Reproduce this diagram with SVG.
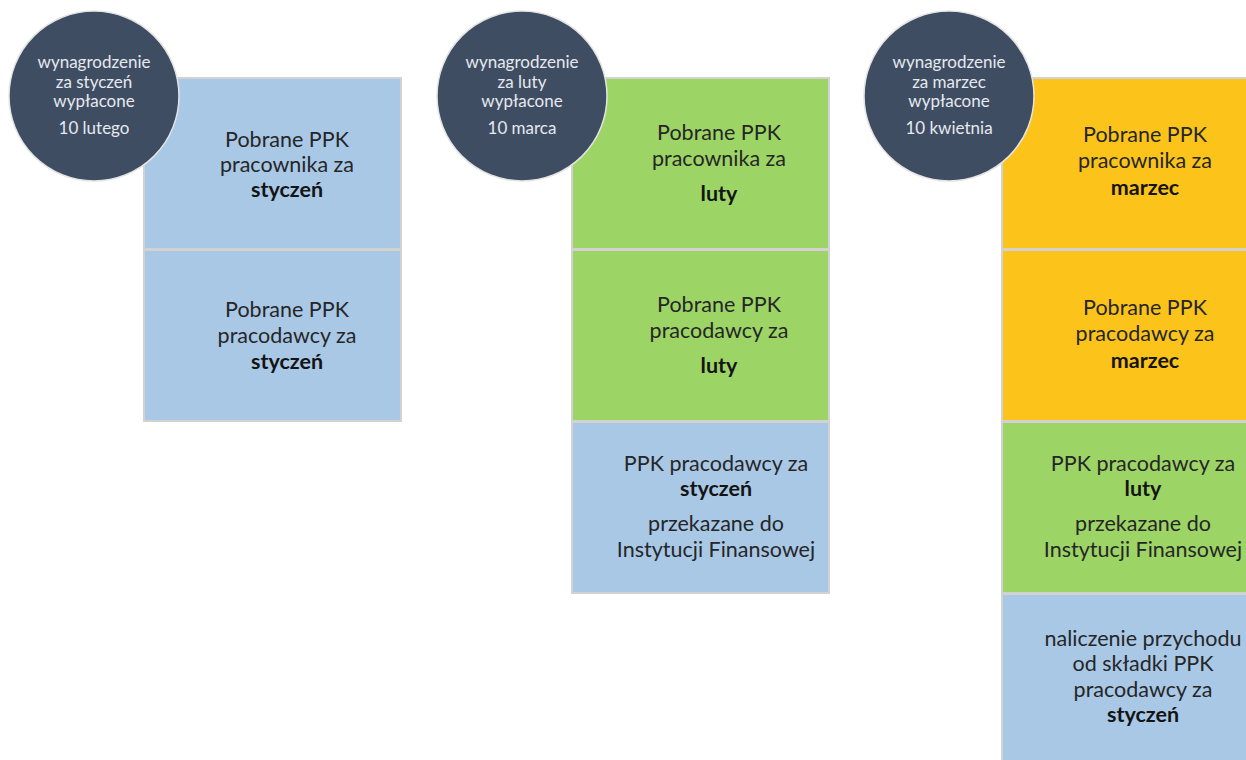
<svg xmlns="http://www.w3.org/2000/svg" width="1246" height="760" viewBox="0 0 1246 760">
<style>
.box{stroke:#D2D2D2;stroke-width:2}
.blue{fill:#A8C8E6}
.green{fill:#9DD466}
.yellow{fill:#FCC41A}
.circ{fill:#3F4D63;stroke:#E4E4E4;stroke-width:1.5}
.t{font-family:Lato,"Liberation Sans",sans-serif;font-size:21.5px;fill:#262626;text-anchor:middle}
.b{font-weight:bold;fill:#141414}
.c{font-family:Lato,"Liberation Sans",sans-serif;font-size:17px;fill:#E6E9EE;text-anchor:middle}
</style>
<rect width="1246" height="760" fill="#FFFFFF"/>

<g id="col1-box1"><rect class="box blue" x="144" y="78" width="257" height="171"/>
<text class="t" x="287" y="147">Pobrane PPK</text><text class="t" x="287" y="172">pracownika za</text><text class="t b" x="287" y="197">styczeń</text></g>
<g id="col1-box2"><rect class="box blue" x="144" y="250" width="257" height="171"/>
<text class="t" x="287" y="317">Pobrane PPK</text><text class="t" x="287" y="343">pracodawcy za</text><text class="t b" x="287" y="369">styczeń</text></g>
<g id="col1-circle"><circle class="circ" cx="94" cy="96" r="85"/>
<text class="c" x="94" y="68">wynagrodzenie</text><text class="c" x="94" y="88">za styczeń</text><text class="c" x="94" y="107">wypłacone</text><text class="c" x="94" y="134">10 lutego</text></g>

<g id="col2-box1"><rect class="box green" x="572" y="78" width="257" height="171"/>
<text class="t" x="719" y="140">Pobrane PPK</text><text class="t" x="719" y="166">pracownika za</text><text class="t b" x="719" y="201">luty</text></g>
<g id="col2-box2"><rect class="box green" x="572" y="250" width="257" height="171"/>
<text class="t" x="719" y="312">Pobrane PPK</text><text class="t" x="719" y="338">pracodawcy za</text><text class="t b" x="719" y="373">luty</text></g>
<g id="col2-box3"><rect class="box blue" x="572" y="422" width="257" height="171"/>
<text class="t" x="716" y="471">PPK pracodawcy za</text><text class="t b" x="716" y="496">styczeń</text><text class="t" x="716" y="531">przekazane do</text><text class="t" x="716" y="557">Instytucji Finansowej</text></g>
<g id="col2-circle"><circle class="circ" cx="522" cy="96" r="85"/>
<text class="c" x="522" y="68">wynagrodzenie</text><text class="c" x="522" y="88">za luty</text><text class="c" x="522" y="107">wypłacone</text><text class="c" x="522" y="134">10 marca</text></g>

<g id="col3-box1"><rect class="box yellow" x="1002" y="78" width="260" height="171"/>
<text class="t" x="1145" y="142">Pobrane PPK</text><text class="t" x="1145" y="168">pracownika za</text><text class="t b" x="1145" y="195">marzec</text></g>
<g id="col3-box2"><rect class="box yellow" x="1002" y="250" width="260" height="171"/>
<text class="t" x="1145" y="315">Pobrane PPK</text><text class="t" x="1145" y="341">pracodawcy za</text><text class="t b" x="1145" y="368">marzec</text></g>
<g id="col3-box3"><rect class="box green" x="1002" y="422" width="260" height="171"/>
<text class="t" x="1143" y="471">PPK pracodawcy za</text><text class="t b" x="1143" y="496">luty</text><text class="t" x="1143" y="531">przekazane do</text><text class="t" x="1143" y="557">Instytucji Finansowej</text></g>
<g id="col3-box4"><rect class="box blue" x="1002" y="594" width="260" height="180"/>
<text class="t" x="1143" y="646">naliczenie przychodu</text><text class="t" x="1143" y="671">od składki PPK</text><text class="t" x="1143" y="697">pracodawcy za</text><text class="t b" x="1143" y="722">styczeń</text></g>
<g id="col3-circle"><circle class="circ" cx="949" cy="96" r="85"/>
<text class="c" x="949" y="68">wynagrodzenie</text><text class="c" x="949" y="88">za marzec</text><text class="c" x="949" y="107">wypłacone</text><text class="c" x="949" y="134">10 kwietnia</text></g>
<g id="connectors"/>
</svg>
